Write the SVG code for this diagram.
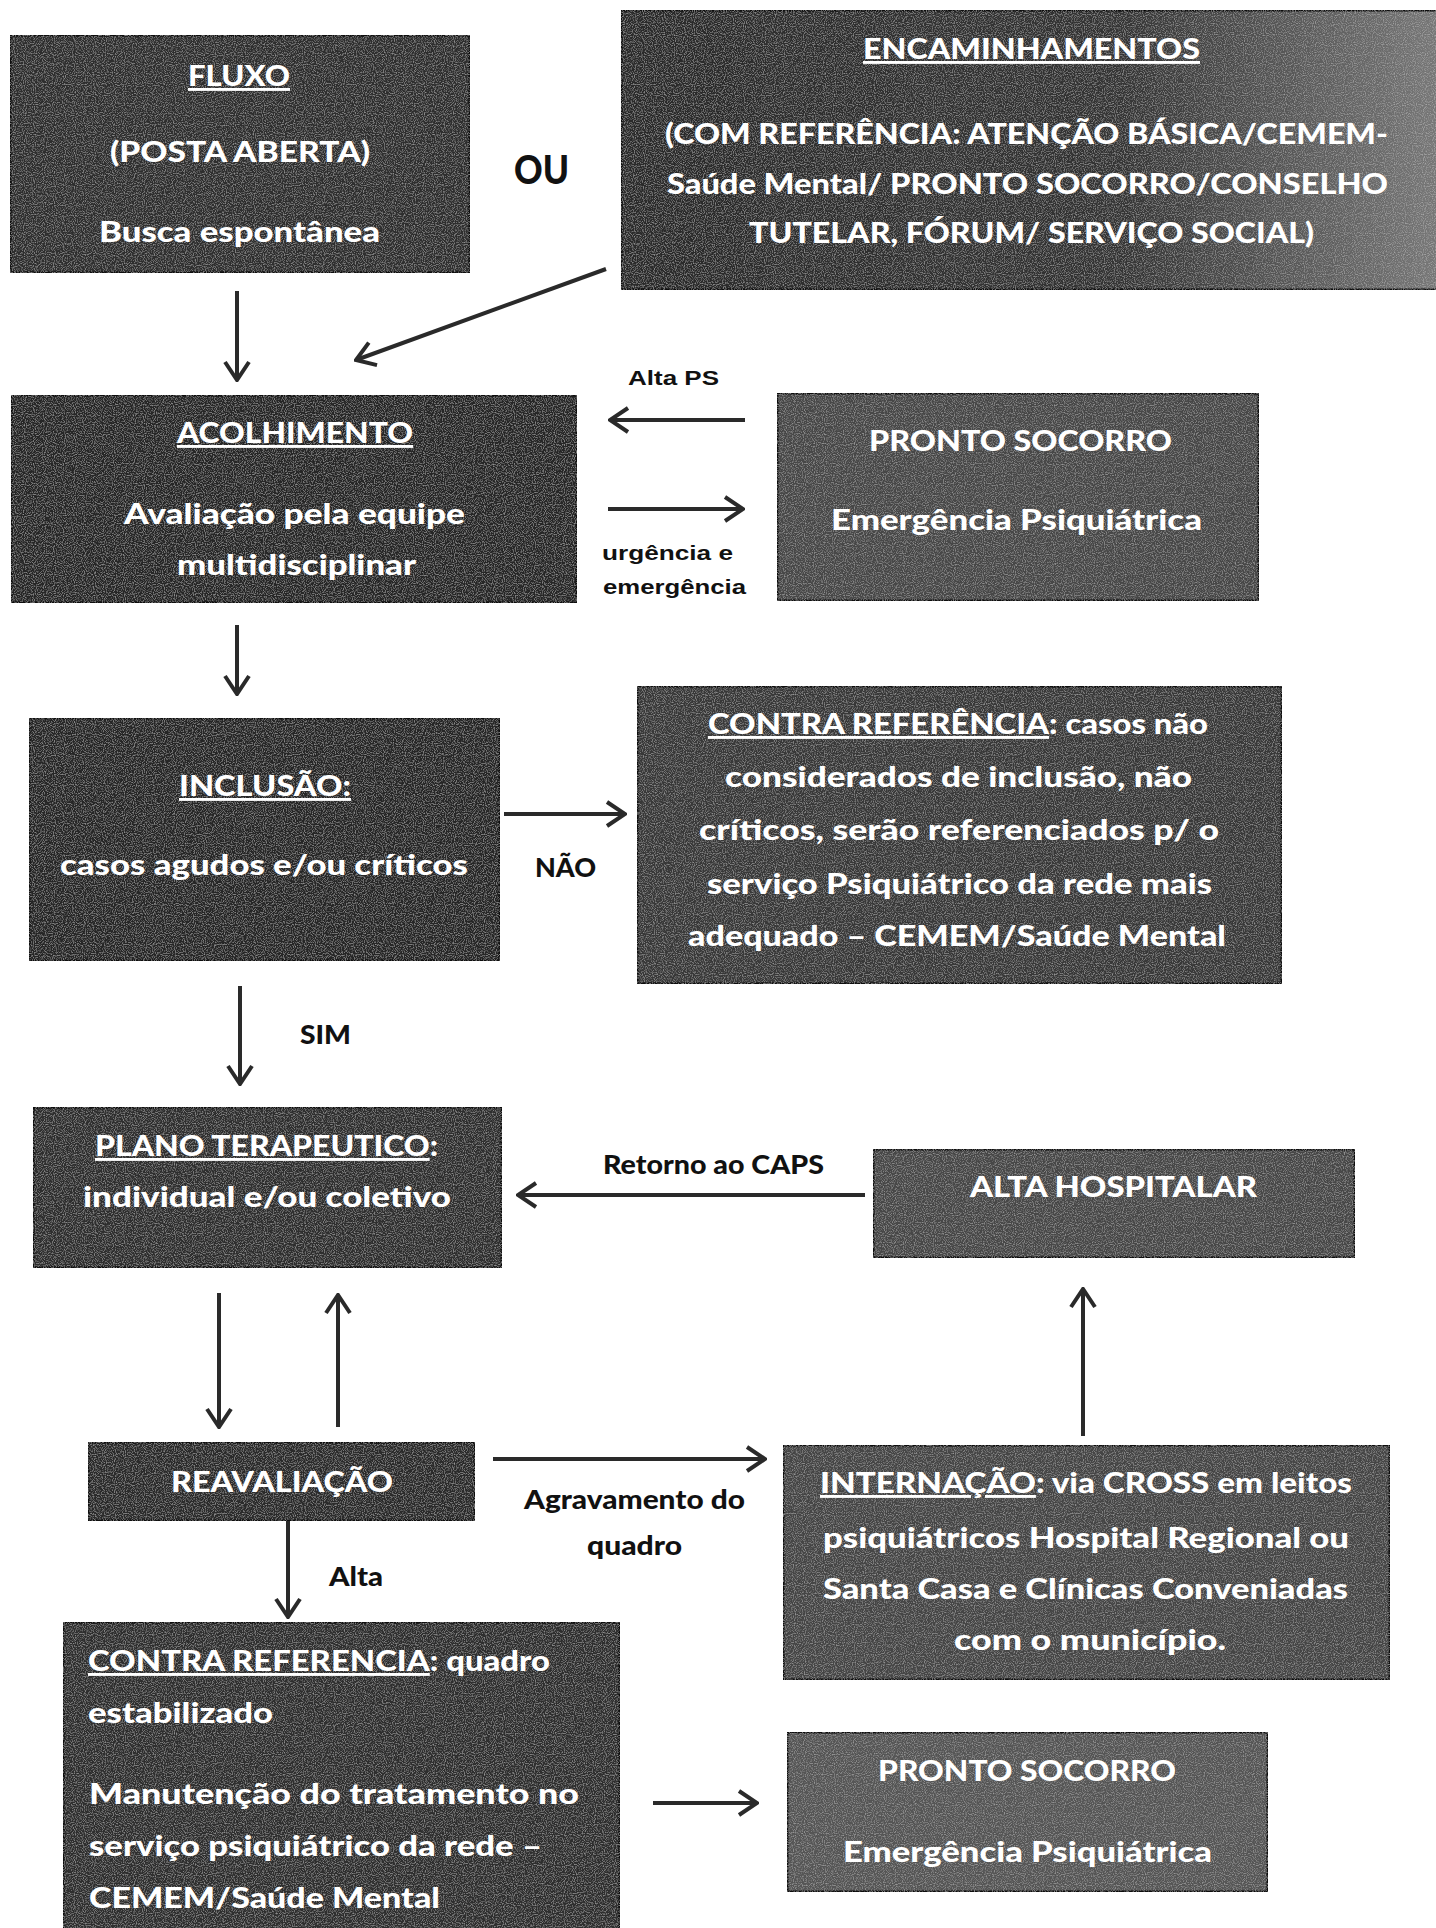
<svg xmlns="http://www.w3.org/2000/svg" width="1436" height="1928" viewBox="0 0 1436 1928">
<style>
.box{stroke:#111;stroke-width:3}
.t{font-family:Lato,"Open Sans","Liberation Sans",sans-serif;font-weight:900;font-size:29px;fill:#ffffff}
.lbl{font-family:Lato,"Open Sans","Liberation Sans",sans-serif;font-weight:900;font-size:27px;fill:#111}
.ar{font-family:"Liberation Sans",Arial,sans-serif;font-weight:700;font-size:21px;fill:#111}
.u{text-decoration:underline}
.c{fill:none;stroke:#2a2a2a;stroke-width:4;marker-end:url(#ah)}
</style>
<defs>
<marker id="ah" viewBox="0 0 22 28" refX="20" refY="14" markerWidth="22" markerHeight="28" markerUnits="userSpaceOnUse" orient="auto">
<path d="M2,2 L20,14 L2,26" fill="none" stroke="#2a2a2a" stroke-width="4"/>
</marker>
<linearGradient id="encg" x1="0" y1="0" x2="1" y2="0">
<stop offset="0" stop-color="#2a2a2a"/>
<stop offset="0.6" stop-color="#343434"/>
<stop offset="1" stop-color="#7a7a7a"/>
</linearGradient>
<filter id="grain" x="0" y="0" width="1" height="1">
<feTurbulence type="fractalNoise" baseFrequency="0.9" numOctaves="1" seed="5" result="n"/>
<feColorMatrix in="n" type="matrix" values="0 0 0 0 0.85 0 0 0 0 0.85 0 0 0 0 0.85 0.9 0 0 0 -0.42" result="s"/>
<feComposite in="s" in2="SourceGraphic" operator="in" result="sc"/>
<feMerge><feMergeNode in="SourceGraphic"/><feMergeNode in="sc"/></feMerge>
</filter>
</defs>
<rect width="1436" height="1928" fill="#ffffff"/>

<g id="connectors">
<line class="c" x1="237" y1="291" x2="237" y2="380"/>
<line class="c" x1="606" y1="269" x2="356" y2="360"/>
<line class="c" x1="745" y1="420" x2="610" y2="420"/>
<line class="c" x1="608" y1="509" x2="743" y2="509"/>
<line class="c" x1="237" y1="625" x2="237" y2="694"/>
<line class="c" x1="504" y1="814" x2="625" y2="814"/>
<line class="c" x1="240" y1="986" x2="240" y2="1084"/>
<line class="c" x1="865" y1="1195" x2="518" y2="1195"/>
<line class="c" x1="219" y1="1293" x2="219" y2="1427"/>
<line class="c" x1="338" y1="1427" x2="338" y2="1295"/>
<line class="c" x1="493" y1="1459" x2="765" y2="1459"/>
<line class="c" x1="1083" y1="1436" x2="1083" y2="1289"/>
<line class="c" x1="288" y1="1521" x2="288" y2="1617"/>
<line class="c" x1="653" y1="1803" x2="757" y2="1803"/>
</g>

<g id="labels">
<text class="lbl" x="514" y="184" style="font-size:40px" textLength="55" lengthAdjust="spacingAndGlyphs">OU</text>
<text class="ar" x="628" y="385" textLength="91" lengthAdjust="spacingAndGlyphs">Alta PS</text>
<text class="ar" x="602" y="560" textLength="131" lengthAdjust="spacingAndGlyphs">urgência e</text>
<text class="ar" x="603" y="594" textLength="143" lengthAdjust="spacingAndGlyphs">emergência</text>
<text class="lbl" x="535" y="877" textLength="61" lengthAdjust="spacingAndGlyphs">NÃO</text>
<text class="lbl" x="300" y="1044" textLength="51" lengthAdjust="spacingAndGlyphs">SIM</text>
<text class="lbl" x="603" y="1174" textLength="221" lengthAdjust="spacingAndGlyphs">Retorno ao CAPS</text>
<text class="lbl" x="524" y="1509" textLength="221" lengthAdjust="spacingAndGlyphs">Agravamento do</text>
<text class="lbl" x="587" y="1555" textLength="95" lengthAdjust="spacingAndGlyphs">quadro</text>
<text class="lbl" x="329" y="1586" textLength="54" lengthAdjust="spacingAndGlyphs">Alta</text>
</g>

<g id="fluxo">
<rect class="box" x="10" y="35" width="460" height="238" fill="#2e2e2e" filter="url(#grain)"/>
<text class="t u" x="188" y="86" textLength="102" lengthAdjust="spacingAndGlyphs">FLUXO</text>
<text class="t" x="110" y="162" textLength="260" lengthAdjust="spacingAndGlyphs">(POSTA ABERTA)</text>
<text class="t" x="99" y="242" textLength="281" lengthAdjust="spacingAndGlyphs">Busca espontânea</text>
</g>

<g id="encaminhamentos">
<rect class="box" x="621" y="10" width="830" height="280" fill="url(#encg)" filter="url(#grain)"/>
<text class="t u" x="863" y="59" textLength="337" lengthAdjust="spacingAndGlyphs">ENCAMINHAMENTOS</text>
<text class="t" x="665" y="144" textLength="723" lengthAdjust="spacingAndGlyphs">(COM REFERÊNCIA: ATENÇÃO BÁSICA/CEMEM-</text>
<text class="t" x="667" y="194" textLength="721" lengthAdjust="spacingAndGlyphs">Saúde Mental/ PRONTO SOCORRO/CONSELHO</text>
<text class="t" x="749" y="243" textLength="565" lengthAdjust="spacingAndGlyphs">TUTELAR, FÓRUM/ SERVIÇO SOCIAL)</text>
</g>

<g id="acolhimento">
<rect class="box" x="11" y="395" width="566" height="208" fill="#262626" filter="url(#grain)"/>
<text class="t u" x="177" y="443" textLength="236" lengthAdjust="spacingAndGlyphs">ACOLHIMENTO</text>
<text class="t" x="124" y="524" textLength="341" lengthAdjust="spacingAndGlyphs">Avaliação pela equipe</text>
<text class="t" x="177" y="575" textLength="239" lengthAdjust="spacingAndGlyphs">multidisciplinar</text>
</g>

<g id="pronto-socorro-1">
<rect class="box" x="777" y="393" width="482" height="208" fill="#464646" filter="url(#grain)"/>
<text class="t" x="869" y="451" textLength="303" lengthAdjust="spacingAndGlyphs">PRONTO SOCORRO</text>
<text class="t" x="831" y="530" textLength="371" lengthAdjust="spacingAndGlyphs">Emergência Psiquiátrica</text>
</g>

<g id="inclusao">
<rect class="box" x="29" y="718" width="471" height="243" fill="#262626" filter="url(#grain)"/>
<text class="t u" x="179" y="796" textLength="172" lengthAdjust="spacingAndGlyphs">INCLUSÃO:</text>
<text class="t" x="60" y="875" textLength="408" lengthAdjust="spacingAndGlyphs">casos agudos e/ou críticos</text>
</g>

<g id="contra-referencia-1">
<rect class="box" x="637" y="686" width="645" height="298" fill="#383838" filter="url(#grain)"/>
<text class="t" x="708" y="734" textLength="500" lengthAdjust="spacingAndGlyphs"><tspan class="u">CONTRA REFERÊNCIA</tspan>: casos não</text>
<text class="t" x="725" y="787" textLength="467" lengthAdjust="spacingAndGlyphs">considerados de inclusão, não</text>
<text class="t" x="699" y="840" textLength="520" lengthAdjust="spacingAndGlyphs">críticos, serão referenciados  p/ o</text>
<text class="t" x="707" y="894" textLength="505" lengthAdjust="spacingAndGlyphs">serviço Psiquiátrico da rede mais</text>
<text class="t" x="688" y="946" textLength="538" lengthAdjust="spacingAndGlyphs">adequado – CEMEM/Saúde Mental</text>
</g>

<g id="plano-terapeutico">
<rect class="box" x="33" y="1107" width="469" height="161" fill="#2e2e2e" filter="url(#grain)"/>
<text class="t" x="95" y="1156" textLength="343" lengthAdjust="spacingAndGlyphs"><tspan class="u">PLANO TERAPEUTICO</tspan>:</text>
<text class="t" x="83" y="1207" textLength="368" lengthAdjust="spacingAndGlyphs">individual e/ou coletivo</text>
</g>

<g id="alta-hospitalar">
<rect class="box" x="873" y="1149" width="482" height="109" fill="#474747" filter="url(#grain)"/>
<text class="t" x="970" y="1197" textLength="287" lengthAdjust="spacingAndGlyphs">ALTA HOSPITALAR</text>
</g>

<g id="reavaliacao">
<rect class="box" x="88" y="1442" width="387" height="79" fill="#2b2b2b" filter="url(#grain)"/>
<text class="t" x="171" y="1492" textLength="222" lengthAdjust="spacingAndGlyphs">REAVALIAÇÃO</text>
</g>

<g id="internacao">
<rect class="box" x="783" y="1445" width="607" height="235" fill="#454545" filter="url(#grain)"/>
<text class="t" x="820" y="1493" textLength="532" lengthAdjust="spacingAndGlyphs"><tspan class="u">INTERNAÇÃO</tspan>: via CROSS em leitos</text>
<text class="t" x="823" y="1548" textLength="526" lengthAdjust="spacingAndGlyphs">psiquiátricos Hospital Regional ou</text>
<text class="t" x="823" y="1599" textLength="525" lengthAdjust="spacingAndGlyphs">Santa Casa e Clínicas Conveniadas</text>
<text class="t" x="954" y="1650" textLength="272" lengthAdjust="spacingAndGlyphs">com o município.</text>
</g>

<g id="contra-referencia-2">
<rect class="box" x="63" y="1622" width="557" height="320" fill="#2e2e2e" filter="url(#grain)"/>
<text class="t" x="88" y="1671" textLength="462" lengthAdjust="spacingAndGlyphs"><tspan class="u">CONTRA REFERENCIA</tspan>: quadro</text>
<text class="t" x="88" y="1723" textLength="185" lengthAdjust="spacingAndGlyphs">estabilizado</text>
<text class="t" x="89" y="1804" textLength="490" lengthAdjust="spacingAndGlyphs">Manutenção  do tratamento no</text>
<text class="t" x="89" y="1856" textLength="453" lengthAdjust="spacingAndGlyphs">serviço psiquiátrico da rede –</text>
<text class="t" x="89" y="1908" textLength="351" lengthAdjust="spacingAndGlyphs">CEMEM/Saúde Mental</text>
</g>

<g id="pronto-socorro-2">
<rect class="box" x="787" y="1732" width="481" height="160" fill="#555555" filter="url(#grain)"/>
<text class="t" x="878" y="1781" textLength="298" lengthAdjust="spacingAndGlyphs">PRONTO SOCORRO</text>
<text class="t" x="843" y="1862" textLength="369" lengthAdjust="spacingAndGlyphs">Emergência Psiquiátrica</text>
</g>
</svg>
